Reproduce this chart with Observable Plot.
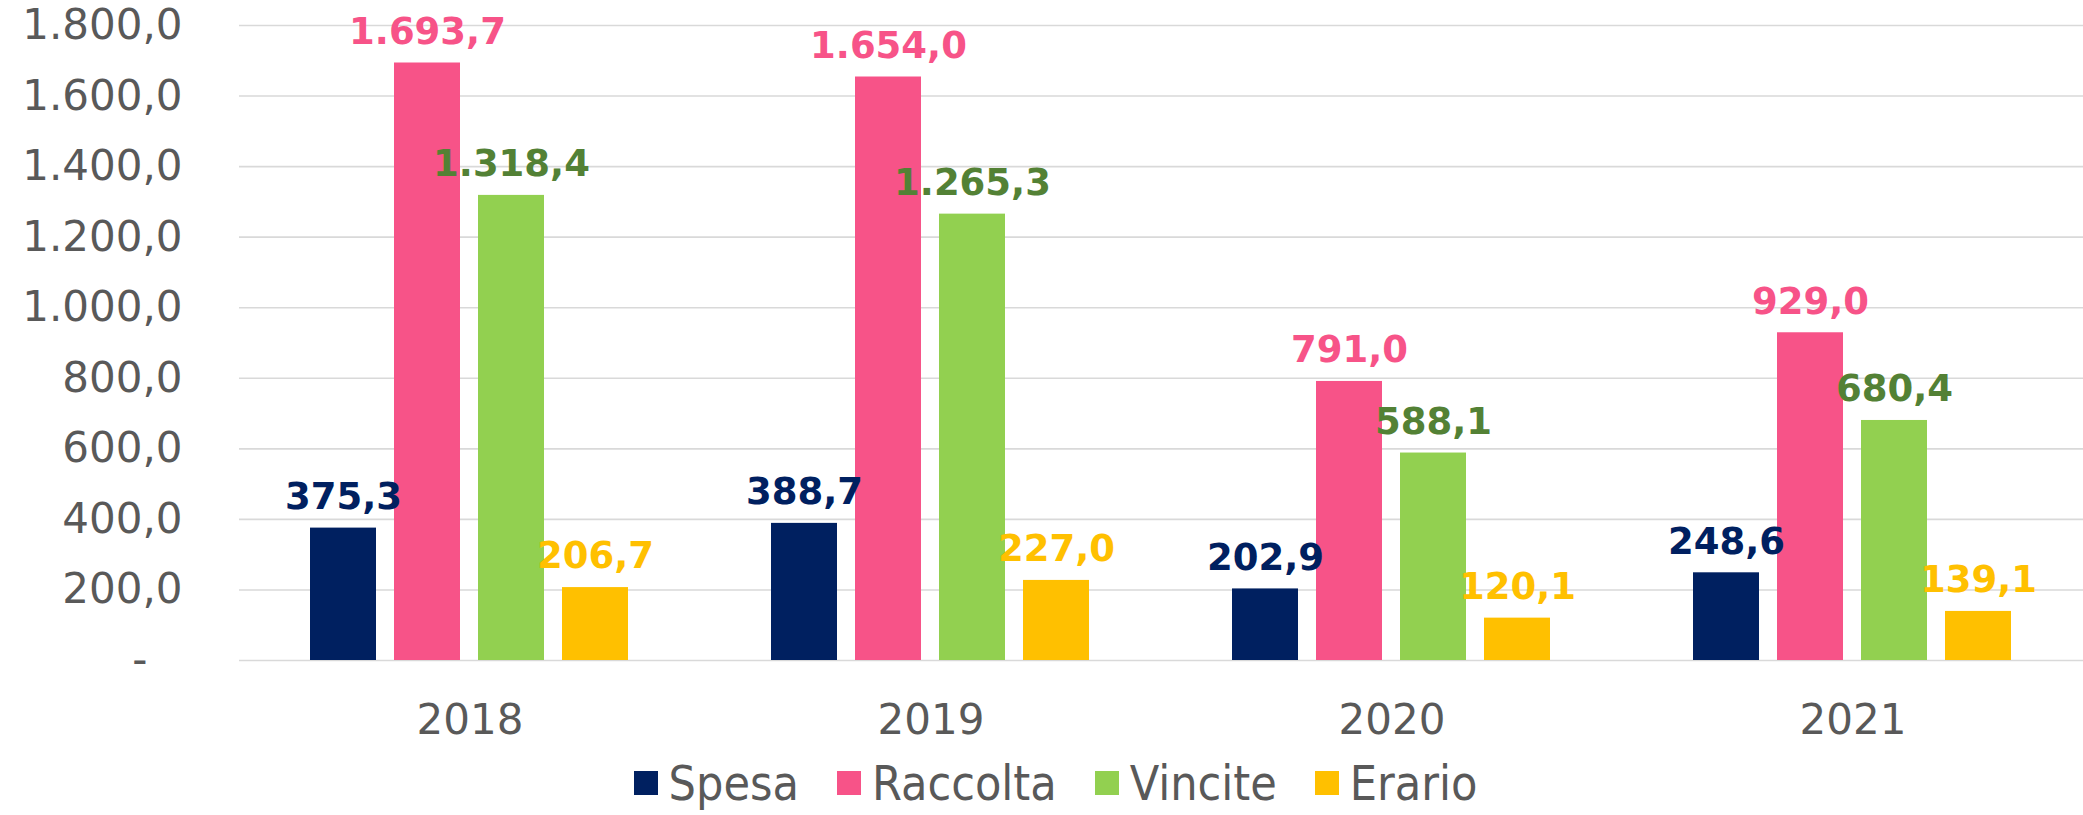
<!DOCTYPE html>
<html><head><meta charset="utf-8">
<script src="https://cdn.jsdelivr.net/npm/d3@7"></script>
<script src="https://cdn.jsdelivr.net/npm/@observablehq/plot@0.6"></script>
<style>
html,body{margin:0;padding:0;background:#fff;}
#chart svg{display:block;}
#legend{display:flex;justify-content:center;align-items:center;height:65px;width:2083px;box-sizing:border-box;padding-left:28px;
  font-family:"DejaVu Sans Condensed","DejaVu Sans",sans-serif;font-stretch:condensed;font-size:48px;color:#595959;}
.item{display:flex;align-items:center;margin:0 19px;}
.sw{width:24px;height:24px;margin-right:11px;}
</style></head><body>
<div id="chart"></div>
<div id="legend"></div>
<script>
const years = ["2018", "2019", "2020", "2021"];
const series = ["Spesa", "Raccolta", "Vincite", "Erario"];
const spesa = [375.3, 388.7, 202.9, 248.6];
const raccolta = [1693.7, 1654.0, 791.0, 929.0];
const vincite = [1318.4, 1265.3, 588.1, 680.4];
const erario = [206.7, 227.0, 120.1, 139.1];
const barColors = ["#002060", "#F75388", "#92D050", "#FFC000"];
const labelColors = ["#002060", "#F75388", "#538135", "#FFC000"];
const yTicks = [0, 200, 400, 600, 800, 1000, 1200, 1400, 1600, 1800];

const it = d3.formatLocale({decimal: ",", thousands: ".", grouping: [3], currency: ["€", ""]});
const fmt = it.format(",.1f");
const tickFmt = v => v === 0 ? "-\u2007\u2009" : fmt(v);

const valuesBySeries = [spesa, raccolta, vincite, erario];
const data = years.flatMap((yr, i) => series.map((s, j) => ({year: yr, series: s, value: valuesBySeries[j][i]})));

const chart = Plot.plot({
  width: 2083,
  height: 750,
  marginLeft: 239,
  marginRight: 0,
  marginTop: 25,
  marginBottom: 90,
  style: {fontFamily: "'DejaVu Sans', Verdana, sans-serif", fontSize: "42px", color: "#595959", background: "#fff"},
  fx: {domain: years, padding: 0, label: null},
  x: {domain: series, paddingInner: 0.214, paddingOuter: 0.851, axis: null},
  y: {domain: [0, 1800], label: null},
  color: {domain: series, range: barColors},
  marks: [
    Plot.gridY(yTicks, {stroke: "#d9d9d9", strokeOpacity: 1, strokeWidth: 1.6}),
    Plot.barY(data, {fx: "year", x: "series", y: "value", fill: "series"}),
    ...series.map((s, j) => Plot.text(data.filter(d => d.series === s), {
      fx: "year", x: "series", y: "value", text: d => fmt(d.value),
      dy: -31, fill: labelColors[j], fontWeight: "bold", fontSize: 37
    })),
    Plot.axisY({ticks: yTicks, tickFormat: tickFmt, tickSize: 0, tickPadding: 57, fontSize: 42, fill: "#595959", label: null}),
    Plot.axisFx({anchor: "bottom", tickSize: 0, tickPadding: 44, fontSize: 42, fill: "#595959", label: null})
  ]
});
document.getElementById("chart").appendChild(chart);

const legend = document.getElementById("legend");
series.forEach((s, j) => {
  const item = document.createElement("div");
  item.className = "item";
  const sw = document.createElement("span");
  sw.className = "sw";
  sw.style.background = barColors[j];
  const t = document.createElement("span");
  t.textContent = s;
  item.appendChild(sw);
  item.appendChild(t);
  legend.appendChild(item);
});
</script>
</body></html>
